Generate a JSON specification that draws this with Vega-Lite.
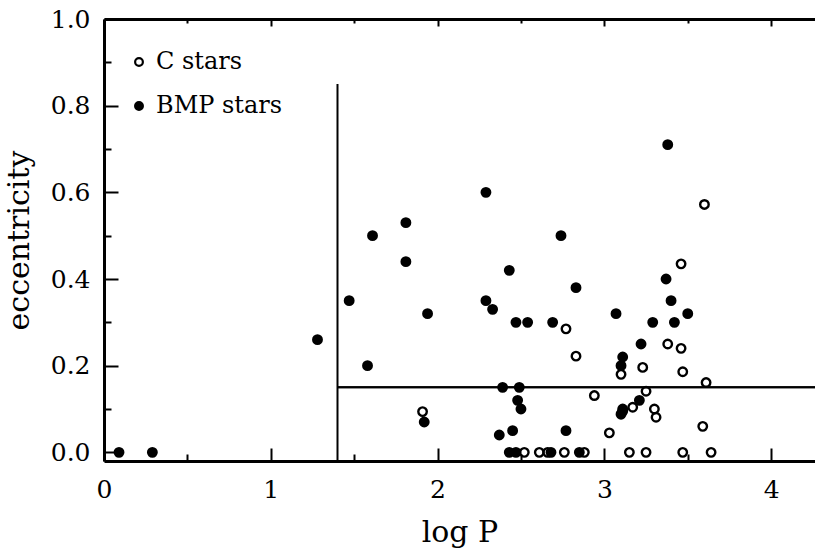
{
  "$schema": "https://vega.github.io/schema/vega-lite/v6.json",
  "autosize": {"type": "none"},
  "padding": {"left": 104, "top": 19, "right": 0, "bottom": 87},
  "width": 711,
  "height": 442,
  "background": "white",
  "config": {
    "view": {"stroke": null},
    "axis": {
      "domainColor": "black", "domainWidth": 3, "tickColor": "black", "tickWidth": 2,
      "labelFont": "DejaVu Serif", "labelFontSize": 25, "labelColor": "black",
      "titleFont": "DejaVu Serif", "titleFontSize": 30, "titleFontWeight": "normal", "titleColor": "black",
      "grid": false, "labelFlush": false, "labelOverlap": false, "labelBound": false
    }
  },
  "datasets": {
    "stars": [
      {"logP": 0.09, "ecc": 0, "type": "BMP stars"},
      {"logP": 0.29, "ecc": 0, "type": "BMP stars"},
      {"logP": 1.28, "ecc": 0.26, "type": "BMP stars"},
      {"logP": 1.47, "ecc": 0.35, "type": "BMP stars"},
      {"logP": 1.58, "ecc": 0.20, "type": "BMP stars"},
      {"logP": 1.61, "ecc": 0.50, "type": "BMP stars"},
      {"logP": 1.81, "ecc": 0.53, "type": "BMP stars"},
      {"logP": 1.81, "ecc": 0.44, "type": "BMP stars"},
      {"logP": 1.94, "ecc": 0.32, "type": "BMP stars"},
      {"logP": 1.92, "ecc": 0.07, "type": "BMP stars"},
      {"logP": 2.29, "ecc": 0.60, "type": "BMP stars"},
      {"logP": 2.29, "ecc": 0.35, "type": "BMP stars"},
      {"logP": 2.33, "ecc": 0.33, "type": "BMP stars"},
      {"logP": 2.43, "ecc": 0.42, "type": "BMP stars"},
      {"logP": 2.47, "ecc": 0.30, "type": "BMP stars"},
      {"logP": 2.54, "ecc": 0.30, "type": "BMP stars"},
      {"logP": 2.69, "ecc": 0.30, "type": "BMP stars"},
      {"logP": 2.74, "ecc": 0.50, "type": "BMP stars"},
      {"logP": 2.83, "ecc": 0.38, "type": "BMP stars"},
      {"logP": 2.39, "ecc": 0.15, "type": "BMP stars"},
      {"logP": 2.49, "ecc": 0.15, "type": "BMP stars"},
      {"logP": 2.48, "ecc": 0.12, "type": "BMP stars"},
      {"logP": 2.50, "ecc": 0.10, "type": "BMP stars"},
      {"logP": 2.45, "ecc": 0.05, "type": "BMP stars"},
      {"logP": 2.37, "ecc": 0.04, "type": "BMP stars"},
      {"logP": 2.77, "ecc": 0.05, "type": "BMP stars"},
      {"logP": 2.43, "ecc": 0, "type": "BMP stars"},
      {"logP": 2.47, "ecc": 0, "type": "BMP stars"},
      {"logP": 2.68, "ecc": 0, "type": "BMP stars"},
      {"logP": 2.85, "ecc": 0, "type": "BMP stars"},
      {"logP": 3.07, "ecc": 0.32, "type": "BMP stars"},
      {"logP": 3.38, "ecc": 0.71, "type": "BMP stars"},
      {"logP": 3.37, "ecc": 0.40, "type": "BMP stars"},
      {"logP": 3.40, "ecc": 0.35, "type": "BMP stars"},
      {"logP": 3.50, "ecc": 0.32, "type": "BMP stars"},
      {"logP": 3.29, "ecc": 0.30, "type": "BMP stars"},
      {"logP": 3.42, "ecc": 0.30, "type": "BMP stars"},
      {"logP": 3.22, "ecc": 0.25, "type": "BMP stars"},
      {"logP": 3.11, "ecc": 0.22, "type": "BMP stars"},
      {"logP": 3.10, "ecc": 0.20, "type": "BMP stars"},
      {"logP": 3.21, "ecc": 0.12, "type": "BMP stars"},
      {"logP": 3.11, "ecc": 0.10, "type": "BMP stars"},
      {"logP": 3.10, "ecc": 0.088, "type": "BMP stars"},
      {"logP": 1.91, "ecc": 0.094, "type": "C stars"},
      {"logP": 2.77, "ecc": 0.285, "type": "C stars"},
      {"logP": 2.83, "ecc": 0.222, "type": "C stars"},
      {"logP": 2.94, "ecc": 0.131, "type": "C stars"},
      {"logP": 3.03, "ecc": 0.045, "type": "C stars"},
      {"logP": 3.60, "ecc": 0.572, "type": "C stars"},
      {"logP": 3.46, "ecc": 0.435, "type": "C stars"},
      {"logP": 3.38, "ecc": 0.25, "type": "C stars"},
      {"logP": 3.46, "ecc": 0.24, "type": "C stars"},
      {"logP": 3.10, "ecc": 0.18, "type": "C stars"},
      {"logP": 3.23, "ecc": 0.196, "type": "C stars"},
      {"logP": 3.47, "ecc": 0.186, "type": "C stars"},
      {"logP": 3.61, "ecc": 0.161, "type": "C stars"},
      {"logP": 3.25, "ecc": 0.141, "type": "C stars"},
      {"logP": 3.17, "ecc": 0.104, "type": "C stars"},
      {"logP": 3.11, "ecc": 0.095, "type": "C stars"},
      {"logP": 3.30, "ecc": 0.10, "type": "C stars"},
      {"logP": 3.31, "ecc": 0.081, "type": "C stars"},
      {"logP": 3.59, "ecc": 0.060, "type": "C stars"},
      {"logP": 2.52, "ecc": 0, "type": "C stars"},
      {"logP": 2.61, "ecc": 0, "type": "C stars"},
      {"logP": 2.66, "ecc": 0, "type": "C stars"},
      {"logP": 2.76, "ecc": 0, "type": "C stars"},
      {"logP": 2.88, "ecc": 0, "type": "C stars"},
      {"logP": 3.15, "ecc": 0, "type": "C stars"},
      {"logP": 3.25, "ecc": 0, "type": "C stars"},
      {"logP": 3.47, "ecc": 0, "type": "C stars"},
      {"logP": 3.64, "ecc": 0, "type": "C stars"}
    ],
    "vline": [{"x": 1.4, "y": -0.02, "y2": 0.85}],
    "hline": [{"x": 1.4, "x2": 4.263, "y": 0.15}]
  },
  "layer": [
    {
      "data": {"name": "vline"},
      "mark": {"type": "rule", "color": "black", "strokeWidth": 2},
      "encoding": {
        "x": {"field": "x", "type": "quantitative", "scale": {"domain": [0, 4.263], "nice": false, "zero": false},
          "axis": {"orient": "bottom", "values": [0.5, 1.5, 2.5, 3.5], "labels": false, "title": null, "domain": false, "tickSize": -7}},
        "y": {"field": "y", "type": "quantitative", "scale": {"domain": [-0.02, 1.0], "nice": false, "zero": false},
          "axis": {"orient": "left", "values": [0.1, 0.3, 0.5, 0.7, 0.9], "labels": false, "title": null, "domain": false, "tickSize": -7}},
        "y2": {"field": "y2"}
      }
    },
    {
      "data": {"name": "hline"},
      "mark": {"type": "rule", "color": "black", "strokeWidth": 2},
      "encoding": {
        "x": {"field": "x", "type": "quantitative", "scale": {"domain": [0, 4.263], "nice": false, "zero": false},
          "axis": {"orient": "top", "values": [0, 1, 2, 3, 4], "labels": false, "title": null, "tickSize": -7}},
        "x2": {"field": "x2"},
        "y": {"field": "y", "type": "quantitative", "scale": {"domain": [-0.02, 1.0], "nice": false, "zero": false}, "axis": null}
      }
    },
    {
      "data": {"name": "hline"},
      "mark": {"type": "rule", "color": "black", "strokeWidth": 2},
      "encoding": {
        "x": {"field": "x", "type": "quantitative", "scale": {"domain": [0, 4.263], "nice": false, "zero": false},
          "axis": {"orient": "top", "values": [0.5, 1.5, 2.5, 3.5], "labels": false, "title": null, "domain": false, "tickSize": -4}},
        "x2": {"field": "x2"},
        "y": {"field": "y", "type": "quantitative", "scale": {"domain": [-0.02, 1.0], "nice": false, "zero": false}, "axis": null}
      }
    },
    {
      "data": {"name": "stars"},
      "mark": {"type": "point", "shape": "circle", "size": 72, "strokeWidth": 2.4, "stroke": "black", "opacity": 1},
      "encoding": {
        "x": {"field": "logP", "type": "quantitative", "scale": {"domain": [0, 4.263], "nice": false, "zero": false},
          "axis": {"orient": "bottom", "values": [0, 1, 2, 3, 4], "tickSize": -13, "format": "d",
            "labelPadding": 29, "title": "log P", "titlePadding": 15}},
        "y": {"field": "ecc", "type": "quantitative", "scale": {"domain": [-0.02, 1.0], "nice": false, "zero": false},
          "axis": {"orient": "left", "values": [0, 0.2, 0.4, 0.6, 0.8, 1.0], "tickSize": -14, "format": ".1f",
            "labelPadding": 28, "title": "eccentricity", "titlePadding": 16}},
        "fill": {"field": "type", "type": "nominal",
          "scale": {"domain": ["C stars", "BMP stars"], "range": ["transparent", "black"]},
          "legend": {"title": null, "orient": "none", "legendX": 23, "legendY": 31, "padding": 0,
            "labelFont": "DejaVu Serif", "labelFontSize": 24, "labelColor": "black",
            "symbolSize": 60, "symbolStrokeWidth": 2.2, "symbolStrokeColor": "black", "symbolType": "circle",
            "rowPadding": 20, "labelOffset": 5, "symbolOpacity": 1}}
      }
    }
  ],
  "resolve": {"axis": {"x": "independent", "y": "independent"}}
}
